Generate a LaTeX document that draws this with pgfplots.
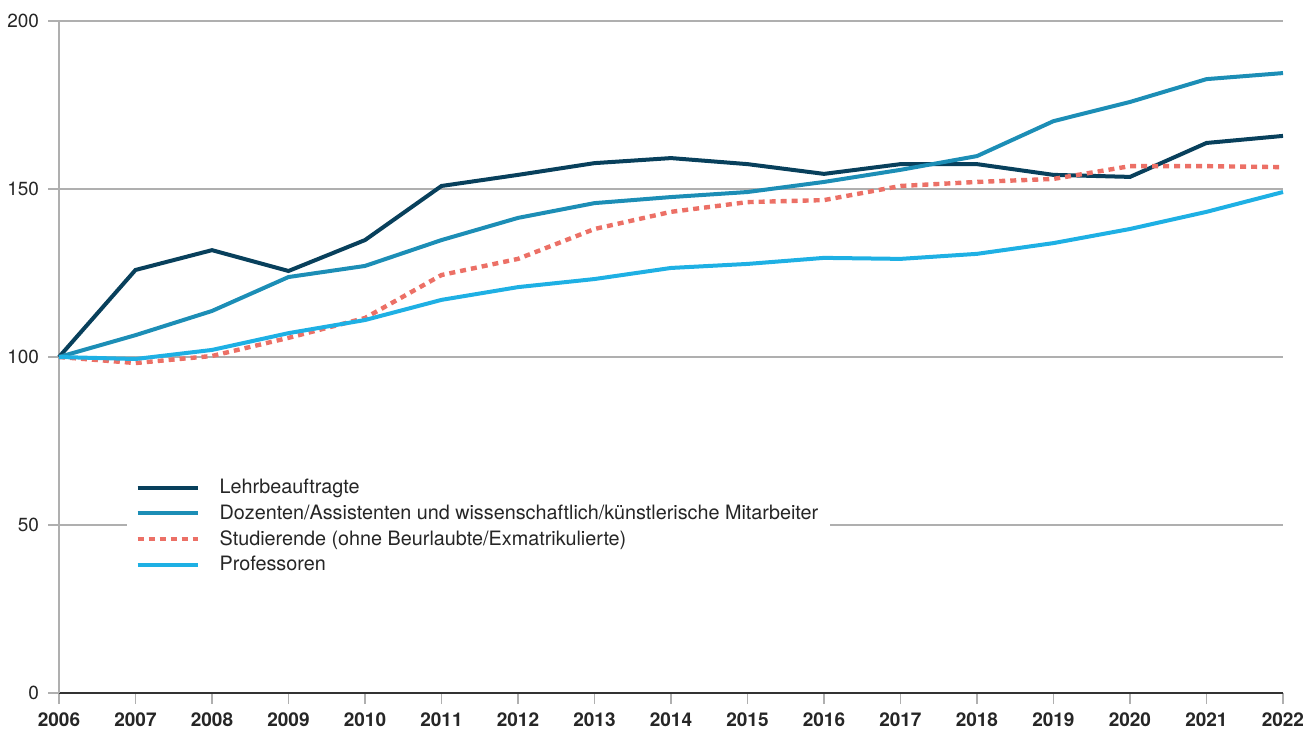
\documentclass[border=0pt]{standalone}
\usepackage{fontspec}
\setmainfont{TeX Gyre Heros}
\usepackage{pgfplots}
\pgfplotsset{compat=1.18}
\usetikzlibrary{calc}

\definecolor{lehr}{RGB}{8,64,92}
\definecolor{doz}{RGB}{28,142,182}
\definecolor{stud}{RGB}{236,112,102}
\definecolor{prof}{RGB}{30,176,228}
\definecolor{gridgrey}{RGB}{175,175,175}

\begin{document}
\begin{tikzpicture}
\begin{axis}[
  scale only axis,
  width=612pt, height=336pt,
  xmin=2006, xmax=2022, ymin=0, ymax=200,
  xtick={2006,...,2022}, ytick={0,50,100,150,200},
  axis x line=bottom, axis y line=left,
  axis line style={-},
  x axis line style={draw=black!80, line width=1pt},
  y axis line style={draw=gridgrey, line width=0.7pt},
  ymajorgrids, grid style={gridgrey, line width=0.6pt},
  tick style={gridgrey, line width=0.6pt},
  tick align=outside, major tick length=5.5pt,
  /pgf/number format/assume math mode=true,
  /pgf/number format/1000 sep={},
  tick label style={font=\fontsize{9.5}{11}\selectfont, text=black!85},
  xticklabel style={font=\fontsize{9.5}{11}\selectfont\bfseries, yshift=-1pt},
  yticklabel style={xshift=-1pt},
  clip=false,
  legend cell align=left,
  legend style={at={(0.0556,0.331)}, anchor=north west, draw=none, fill=white,
    font=\fontsize{9.9}{11}\selectfont, row sep=0.1pt, inner xsep=4pt, inner ysep=2pt,
    text=black!85},
  legend image code/.code={
    \draw[#1] (0pt,0pt) -- (30pt,0pt);
    \path[draw=none] (0pt,0pt) -- (39pt,0pt);
  },
]
\addplot[lehr, line width=2pt] coordinates {
  (2006,100)(2007,125.9)(2008,131.8)(2009,125.6)(2010,134.8)(2011,150.9)
  (2012,154.2)(2013,157.7)(2014,159.2)(2015,157.4)(2016,154.5)(2017,157.4)
  (2018,157.4)(2019,154.2)(2020,153.6)(2021,163.7)(2022,165.8)};
\addlegendentry{Lehrbeauftragte}
\addplot[doz, line width=2pt] coordinates {
  (2006,100)(2007,106.5)(2008,113.7)(2009,123.8)(2010,127.1)(2011,134.8)
  (2012,141.4)(2013,145.8)(2014,147.6)(2015,149.1)(2016,152.1)(2017,155.7)
  (2018,159.8)(2019,170.2)(2020,175.9)(2021,182.7)(2022,184.5)};
\addlegendentry{Dozenten/Assistenten und wissenschaftlich/künstlerische Mitarbeiter}
\addplot[stud, line width=2.2pt, dash pattern=on 3pt off 2.5pt] coordinates {
  (2006,100)(2007,98.2)(2008,100.3)(2009,105.7)(2010,111.6)(2011,124.4)
  (2012,129.2)(2013,138.1)(2014,143.2)(2015,146.1)(2016,146.7)(2017,150.9)
  (2018,152.1)(2019,153.0)(2020,156.8)(2021,156.8)(2022,156.5)};
\addlegendentry{Studierende (ohne Beurlaubte/Exmatrikulierte)}
\addplot[prof, line width=2pt] coordinates {
  (2006,100)(2007,99.4)(2008,102.1)(2009,107.1)(2010,111.0)(2011,117.0)
  (2012,120.8)(2013,123.2)(2014,126.5)(2015,127.7)(2016,129.5)(2017,129.2)
  (2018,130.7)(2019,133.9)(2020,138.1)(2021,143.2)(2022,149.1)};
\addlegendentry{Professoren}
\end{axis}
\pgfresetboundingbox
\path[use as bounding box] ($(current axis.south west)+(-29.5pt,-20pt)$) rectangle ($(current axis.north east)+(13pt,10.5pt)$);
\end{tikzpicture}
\end{document}
